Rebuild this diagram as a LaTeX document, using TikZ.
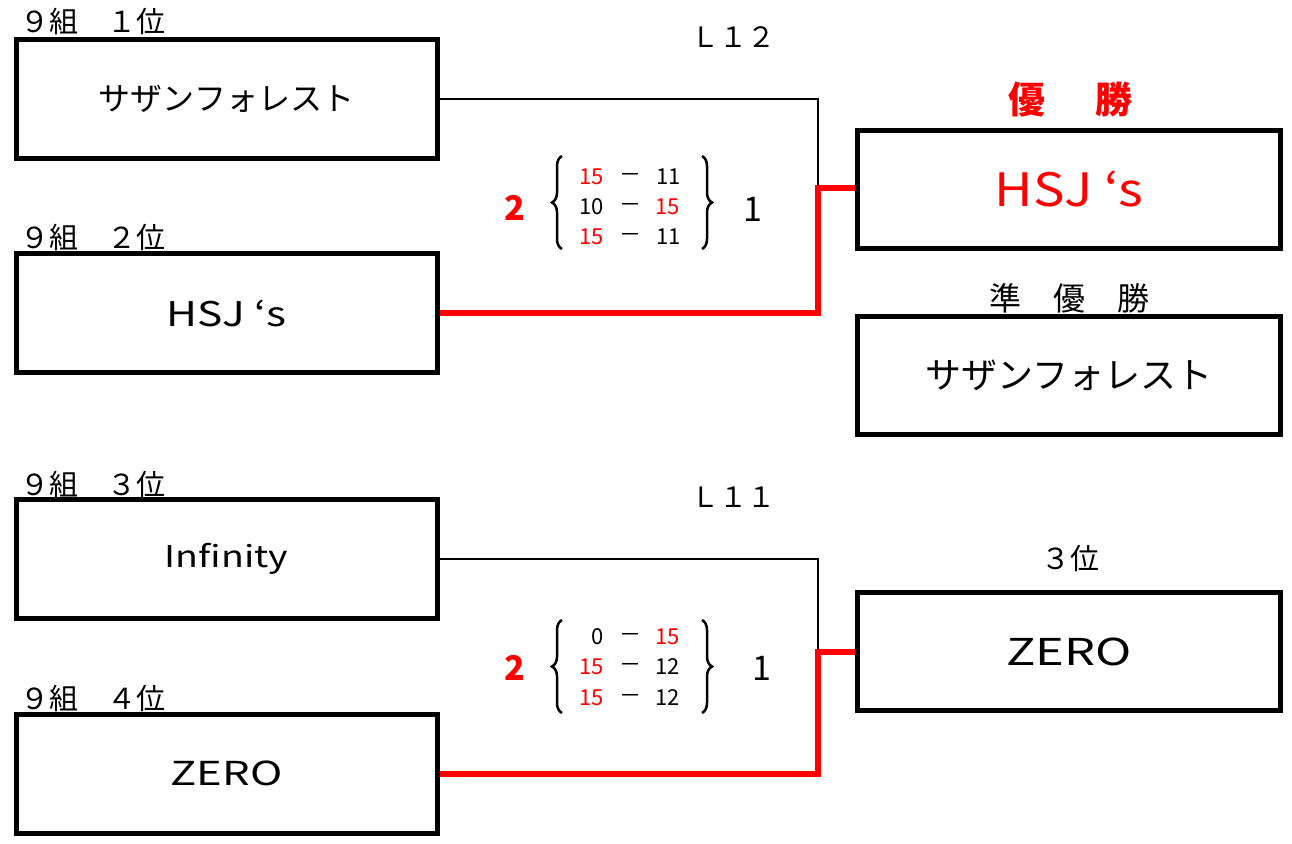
\documentclass[tikz,border=0pt]{standalone}
\usepackage{fontspec}
\setmainfont{Noto Sans CJK JP}
\newfontfamily\widefont[FakeStretch=1.25]{Noto Sans CJK JP}
\newfontfamily\widerfont[FakeStretch=1.32]{Noto Sans CJK JP}
\newfontfamily\winfont[FakeStretch=1.15]{Noto Sans CJK JP}
\usetikzlibrary{decorations.pathreplacing}
\begin{document}
\begin{tikzpicture}[x=1pt,y=-1pt,
 team/.style={draw,line width=5pt,minimum width=421pt,minimum height=119pt,inner sep=0pt,font=\fontsize{32}{36}\selectfont},
 rteam/.style={team,minimum width=423pt,minimum height=118pt},
 big/.style={font=\fontsize{36}{40}\selectfont},
 hdr/.style={font=\fontsize{29}{32}\selectfont,anchor=base west,inner sep=0pt},
 lbl/.style={inner sep=0pt},
 thinl/.style={line width=1.5pt},
 winl/.style={line width=6pt,red,line join=miter},
 sc/.style={font=\fontsize{22}{24}\selectfont,inner sep=0pt},
 scr/.style={sc,red},
 brc/.style={decorate,decoration={brace,amplitude=10pt},line width=2.5pt},
 tot/.style={font=\fontsize{34}{36}\selectfont,inner sep=0pt}]
\useasboundingbox (0,0) rectangle (1292,843);

% headers
\node[hdr] (h1) at (20,33) {９組　１位};
\node[hdr] (h2) at (20,248) {９組　２位};
\node[hdr] (h3) at (20,495) {９組　３位};
\node[hdr] (h4) at (20,709) {９組　４位};
\node[lbl,font=\fontsize{28}{30}\selectfont] (l12) at (733,37) {Ｌ１２};
\node[lbl,font=\fontsize{28}{30}\selectfont] (l11) at (733,497) {Ｌ１１};
\node[lbl,red,font=\bfseries\fontsize{37}{40}\selectfont] (yu) at (1070,100) {優\hspace{50pt}勝};
\node[lbl,font=\fontsize{32}{36}\selectfont] (jyu) at (1069,298) {準　優　勝};
\node[lbl,font=\fontsize{29}{32}\selectfont] (san) at (1070,558) {３位};

% team boxes
\node[team] (b1) at (226.5,99) {サザンフォレスト};
\node[team,font=\widefont\fontsize{34}{38}\selectfont] (b2) at (226.5,313) {HSJ ‘s};
\node[team,font=\widefont\fontsize{30}{34}\selectfont] (b3) at (226.5,559) {Infinity};
\node[team,font=\widerfont\fontsize{33}{36}\selectfont] (b4) at (226.5,773.5) {ZERO};
\node[rteam,text=red,font=\winfont\fontsize{46}{50}\selectfont] (w) at (1069,189) {HSJ ‘s};
\node[rteam,big] (r) at (1069,375) {サザンフォレスト};
\node[rteam,font=\widerfont\fontsize{37}{40}\selectfont] (t) at (1069,651.5) {ZERO};

% connectors
\coordinate (j1) at (818,188);
\coordinate (j2) at (818,652);
\draw[thinl] (b1.east) -| (j1);
\draw[winl] (b2.east) -| (j1) -- (j1 -| w.west);
\draw[thinl] (b3.east) -| (j2);
\draw[winl] (b4.east) -| (j2) -- (j2 -| t.west);

% scores top
\node[tot,red,font=\bfseries\fontsize{34}{36}\selectfont] (s1a) at (515,208) {2};
\node[tot] (s1b) at (753,209) {1};
\draw[brc] (562,249) coordinate (bl1a) -- (562,156) coordinate (bl1b);
\draw[brc] (702,156) coordinate (br1a) -- (702,249) coordinate (br1b);
\node[scr,anchor=east] (a11) at (604,177) {15};
\node[sc] (d11) at (630,178) {－};
\node[sc,anchor=west] (c11) at (656,177) {11};
\node[sc,anchor=east] (a12) at (604,207) {10};
\node[sc] (d12) at (630,208) {－};
\node[scr,anchor=west] (c12) at (655,207) {15};
\node[scr,anchor=east] (a13) at (604,237) {15};
\node[sc] (d13) at (630,238) {－};
\node[sc,anchor=west] (c13) at (656,237) {11};

% scores bottom
\node[tot,red,font=\bfseries\fontsize{34}{36}\selectfont] (s2a) at (515,668) {2};
\node[tot] (s2b) at (762,668) {1};
\draw[brc] (562,713) coordinate (bl2a) -- (562,620) coordinate (bl2b);
\draw[brc] (702,620) coordinate (br2a) -- (702,713) coordinate (br2b);
\node[sc,anchor=east] (a21) at (604,637) {0};
\node[sc] (d21) at (630,638) {－};
\node[scr,anchor=west] (c21) at (655,637) {15};
\node[scr,anchor=east] (a22) at (604,667) {15};
\node[sc] (d22) at (630,668) {－};
\node[sc,anchor=west] (c22) at (655,667) {12};
\node[scr,anchor=east] (a23) at (604,698) {15};
\node[sc] (d23) at (630,699) {－};
\node[sc,anchor=west] (c23) at (655,698) {12};
\end{tikzpicture}
\end{document}
